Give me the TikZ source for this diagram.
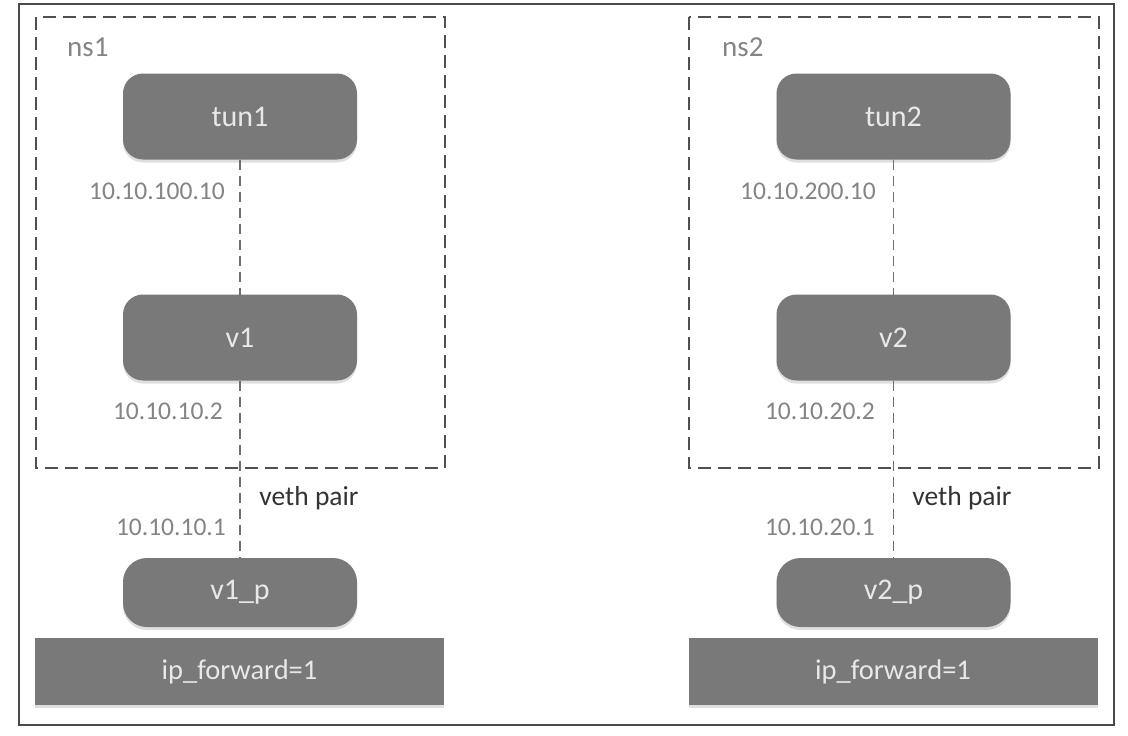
\documentclass[tikz,border=0pt]{standalone}
\usepackage{fontspec}
\setmainfont{Carlito}
\usetikzlibrary{shadows}
\definecolor{boxgray}{HTML}{797979}
\definecolor{boxtext}{HTML}{E8E8E8}
\definecolor{labgray}{HTML}{848484}
\definecolor{linegray}{HTML}{505050}
\definecolor{linklight}{HTML}{6E6E6E}
\definecolor{framegray}{HTML}{4A4A4A}
\tikzset{
  iface/.style={draw=none, fill=boxgray, rounded corners=20pt, inner sep=0pt, outer sep=0pt,
    minimum width=234pt, minimum height=86pt, text=boxtext, font=\fontsize{30}{34}\selectfont,
    drop shadow={opacity=0.25, shadow xshift=0pt, shadow yshift=-3pt}},
  pface/.style={iface, rounded corners=24pt, minimum height=69pt},
  fwdbar/.style={draw=none, fill=boxgray, inner sep=0pt, outer sep=0pt,
    minimum width=409pt, minimum height=67pt, text=boxtext, font=\fontsize{28.5}{32}\selectfont,
    drop shadow={opacity=0.25, shadow xshift=0pt, shadow yshift=-3pt}},
  nsbox/.style={draw=linegray, line width=2.3pt, dash pattern=on 13pt off 7pt},
  link/.style={draw=linklight, line width=1.9pt, dash pattern=on 10pt off 6pt},
  addr/.style={text=labgray, inner sep=0pt, font=\fontsize{25.5}{30}\selectfont},
  nslabel/.style={text=labgray, inner sep=0pt, anchor=west, font=\fontsize{29}{32}\selectfont},
  pairlabel/.style={text=black!80, inner sep=0pt, font=\fontsize{27.5}{32}\selectfont}
}
\begin{document}
\begin{tikzpicture}[x=1pt, y=-1pt]
  \useasboundingbox (0,0) rectangle (1128,736);
  \fill[white] (0,0) rectangle (1128,736);
  % outer frame
  \draw[framegray, line width=1.5pt] (19,4) rectangle (1114,725);

  % namespaces
  \draw[nsbox] (36,17) rectangle (445,468);
  \draw[nsbox] (689,17) rectangle (1099,468);
  \node[nslabel] (ns1) at (67,47) {ns1};
  \node[nslabel] (ns2) at (722,47) {ns2};

  % left host
  \node[iface] (tun1) at (240,116.5) {tun1};
  \node[iface] (v1) at (240,337.5) {v1};
  \node[pface] (v1p) at (240,592.5) {v1\_p};
  \node[fwdbar] (fwd1) at (239.5,671.5) {ip\_forward=1};

  % right host
  \node[iface] (tun2) at (893.5,116.5) {tun2};
  \node[iface] (v2) at (893.5,337.5) {v2};
  \node[pface] (v2p) at (893.5,592.5) {v2\_p};
  \node[fwdbar] (fwd2) at (893,671.5) {ip\_forward=1};

  % links
  \draw[link] (tun1.south) -- (v1.north);
  \draw[link] (v1.south) -- (v1p.north);
  \draw[link] (tun2.south) -- (v2.north);
  \draw[link] (v2.south) -- (v2p.north);

  % addresses
  \node[addr, anchor=east] (a1) at (225,191) {10.10.100.10};
  \node[addr, anchor=east] (a2) at (223,411) {10.10.10.2};
  \node[addr, anchor=east] (a3) at (226,527) {10.10.10.1};
  \node[addr, anchor=east] (b1) at (876,191) {10.10.200.10};
  \node[addr, anchor=east] (b2) at (875,411) {10.10.20.2};
  \node[addr, anchor=east] (b3) at (875,527) {10.10.20.1};

  \node[pairlabel] (pair1) at (309,498) {veth pair};
  \node[pairlabel] (pair2) at (962,498) {veth pair};
\end{tikzpicture}
\end{document}
